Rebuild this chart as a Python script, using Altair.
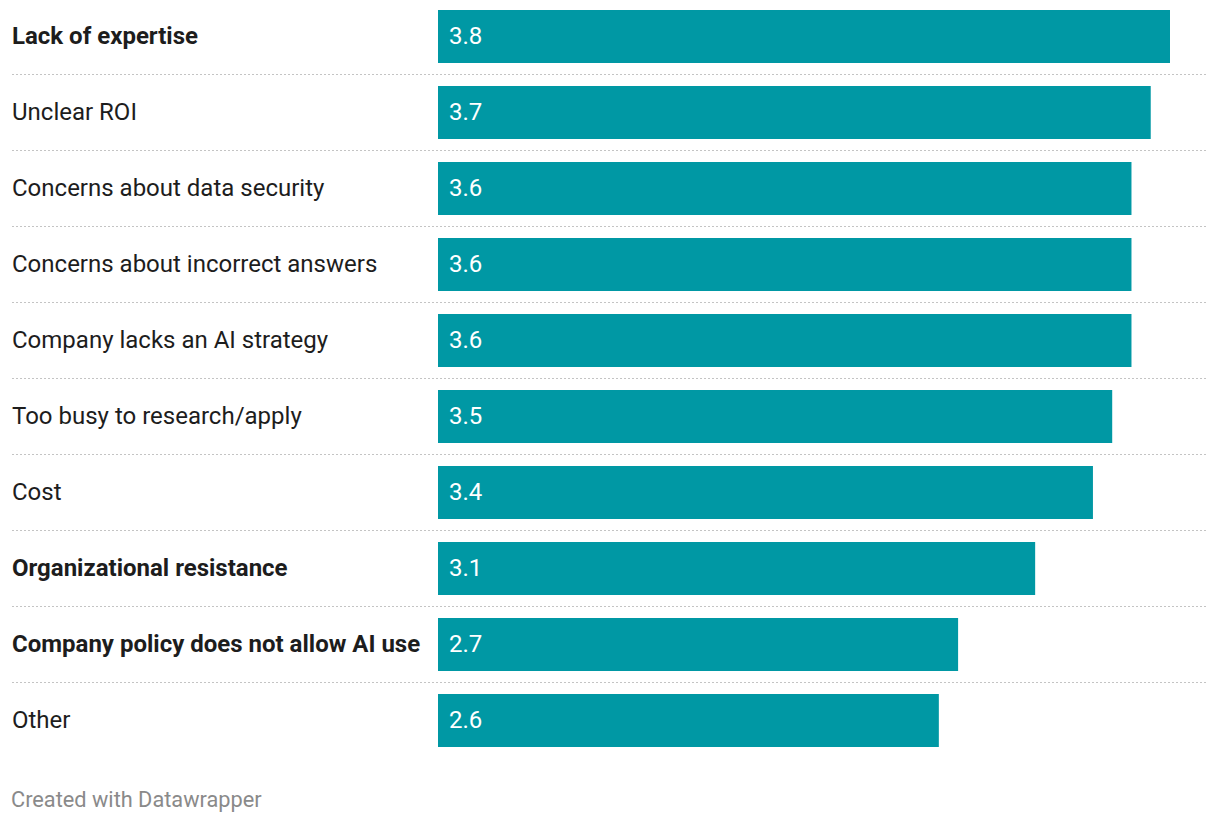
import altair as alt
import pandas as pd

labels = [
    "Lack of expertise",
    "Unclear ROI",
    "Concerns about data security",
    "Concerns about incorrect answers",
    "Company lacks an AI strategy",
    "Too busy to research/apply",
    "Cost",
    "Organizational resistance",
    "Company policy does not allow AI use",
    "Other",
]
values = [3.8, 3.7, 3.6, 3.6, 3.6, 3.5, 3.4, 3.1, 2.7, 2.6]
bold = [True, False, False, False, False, False, False, True, True, False]

df = pd.DataFrame({"label": labels, "value": values, "bold": bold})
df["valtxt"] = df["value"].map(lambda v: f"{v:.1f}")
df["last"] = [i == len(labels) - 1 for i in range(len(labels))]

W = 1197
H = 760
FONT = "Roboto"
FS = 24

yscale = alt.Scale(domain=labels, range=[-9.5, 750.5], paddingInner=0, paddingOuter=0)
xscale = alt.Scale(domain=[0, 3.8], range=[427, 1159], nice=False, zero=False)

base = alt.Chart(df)

sep = base.transform_filter("!datum.last").mark_rule(
    color="#c4c4c4", strokeWidth=1, strokeDash=[2, 2]
).encode(
    y=alt.Y("label:N", sort=labels, scale=yscale, axis=None, bandPosition=1),
    x=alt.value(1),
    x2=alt.value(W),
)

bars = base.mark_bar(color="#0098a4", size=53).encode(
    y=alt.Y("label:N", sort=labels, scale=yscale, axis=None),
    x=alt.X("value:Q", scale=xscale, axis=None),
    x2=alt.datum(0),
)

vals = base.transform_calculate(zero="0").mark_text(
    align="left", baseline="middle", dx=11, color="#ffffff", font=FONT, fontSize=FS
).encode(
    y=alt.Y("label:N", sort=labels, scale=yscale, axis=None),
    x=alt.X("zero:Q", scale=xscale, axis=None),
    text="valtxt:N",
)

lab_norm = base.transform_filter("!datum.bold").mark_text(
    align="left", baseline="middle", color="#1d1d1d", font=FONT, fontSize=FS, dx=1
).encode(
    y=alt.Y("label:N", sort=labels, scale=yscale, axis=None),
    x=alt.value(0),
    text="label:N",
)
lab_bold = base.transform_filter("datum.bold").mark_text(
    align="left", baseline="middle", color="#1d1d1d", font=FONT, fontSize=FS,
    fontWeight="bold", dx=1,
).encode(
    y=alt.Y("label:N", sort=labels, scale=yscale, axis=None),
    x=alt.value(0),
    text="label:N",
)

chart = alt.layer(sep, bars, vals, lab_norm, lab_bold).properties(
    width=W,
    height=H,
    background="white",
    padding={"left": 3, "top": 0, "right": 0, "bottom": 0},
    title=alt.TitleParams(
        "Created with Datawrapper",
        orient="bottom",
        anchor="start",
        font=FONT,
        fontSize=21.75,
        fontWeight="normal",
        color="#8a8a8a",
        offset=22,
    ),
).configure_view(strokeWidth=0, stroke="transparent")

chart.save("out.html", embed_options={"renderer": "svg", "actions": False})
